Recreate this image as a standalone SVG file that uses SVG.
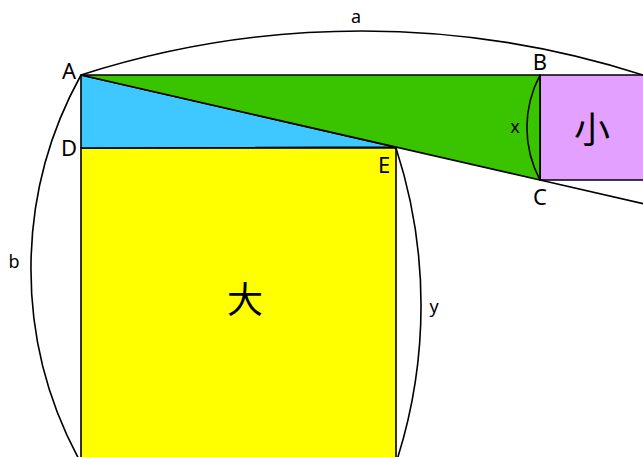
<svg xmlns="http://www.w3.org/2000/svg" width="643" height="457" viewBox="0 0 643 457">
<style>
.s{stroke:#000;stroke-width:1.6;stroke-linejoin:round}
.arc{fill:none;stroke:#000;stroke-width:1.6}
.lbl{font-family:"Noto Sans","Noto Sans CJK JP",sans-serif;font-size:22px;fill:#000}
.sm{font-family:"Noto Sans","Noto Sans CJK JP",sans-serif;font-size:18px;fill:#000}
.big{font-family:"Noto Sans CJK JP",sans-serif;font-size:36px;fill:#000}
</style>
<rect width="643" height="457" fill="#fff"/>
<g id="big-square">
<rect class="s" x="81" y="148" width="315" height="315" fill="#ffff00"/>
<text class="big" x="245" y="313" text-anchor="middle">大</text>
</g>
<g id="small-square">
<rect class="s" x="540" y="75" width="110" height="105" fill="#e3a0ff"/>
<text class="big" x="592" y="143" text-anchor="middle">小</text>
</g>
<g id="triangle-ade">
<polygon class="s" points="81,75 81,148 396,147.1" fill="#3ec8ff"/>
</g>
<g id="triangle-abc">
<polygon class="s" points="81,75 540,75 540,180" fill="#3ac400"/>
</g>
<g id="connectors">
<line class="s" x1="540" y1="180" x2="650" y2="205.2"/>
<path class="arc" d="M81 75 A919 919 0 0 1 643 75"/>
<path class="arc" d="M81 75 A401 401 0 0 0 81 463"/>
<path class="arc" d="M396 148 A508 508 0 0 1 396 463"/>
<path class="arc" d="M540 75 A112 112 0 0 0 540 180"/>
</g>
<g id="labels">
<text class="lbl" x="69" y="79" text-anchor="middle">A</text>
<text class="lbl" x="540" y="70" text-anchor="middle">B</text>
<text class="lbl" x="540" y="205" text-anchor="middle">C</text>
<text class="lbl" x="69" y="156" text-anchor="middle">D</text>
<text class="lbl" x="384" y="173" text-anchor="middle">E</text>
<text class="sm" x="356" y="23" text-anchor="middle">a</text>
<text class="sm" x="14" y="268" text-anchor="middle">b</text>
<text class="sm" x="515" y="133" text-anchor="middle">x</text>
<text class="sm" x="434" y="313" text-anchor="middle">y</text>
</g>
</svg>
